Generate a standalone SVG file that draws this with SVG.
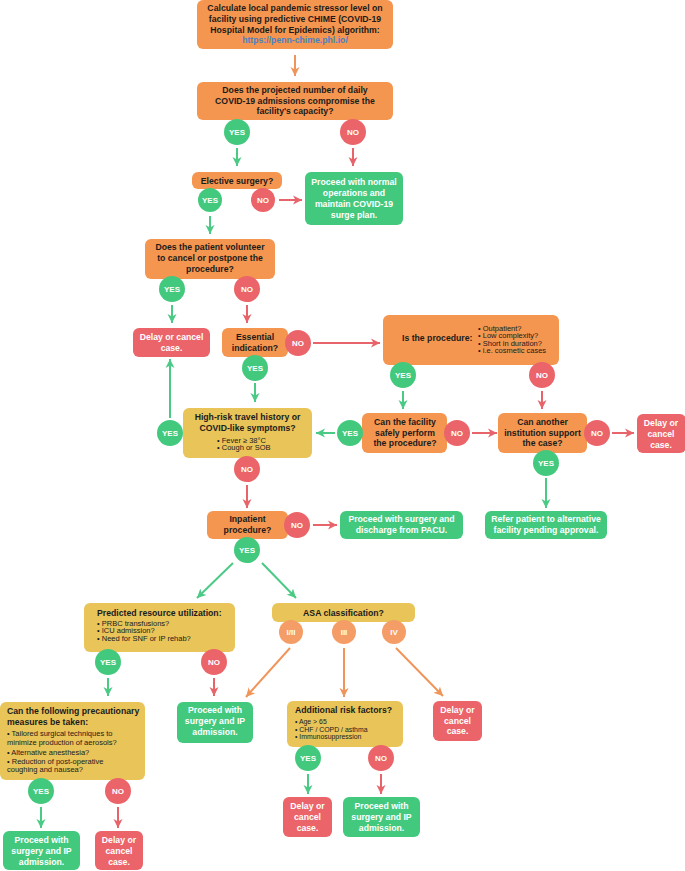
<svg xmlns="http://www.w3.org/2000/svg" width="685" height="871" viewBox="0 0 685 871">
<style>
text{font-family:"Liberation Sans",Arial,Helvetica,sans-serif;}
.t{font-size:8.7px;font-weight:bold;fill:#1b1b1b;text-anchor:middle;}
.tl{font-size:8.7px;font-weight:bold;fill:#1b1b1b;}
.w{font-size:8.7px;font-weight:bold;fill:#ffffff;text-anchor:middle;}
.b{font-size:7.5px;fill:#1b1b1b;}
.bs{font-size:6.9px;fill:#1b1b1b;}
.c{font-size:8px;font-weight:bold;fill:#ffffff;text-anchor:middle;}
.lk{font-size:8.7px;font-weight:bold;fill:#4a80c4;text-anchor:middle;}
.or{fill:#f4964f;}
.gr{fill:#43c97e;}
.rd{fill:#eb6469;}
.ye{fill:#e8c459;}
.lo{fill:#f49d66;}
.ag{stroke:#4bca86;stroke-width:2;fill:none;marker-end:url(#mg);}
.ar{stroke:#e8646b;stroke-width:2;fill:none;marker-end:url(#mr);}
.ao{stroke:#f0955a;stroke-width:2;fill:none;marker-end:url(#mo);}
</style>
<defs>
<marker id="mg" markerUnits="userSpaceOnUse" markerWidth="10" markerHeight="10" refX="9" refY="5" orient="auto"><path d="M0,0.5 L9,5 L0,9.5 L2.5,5 z" fill="#4bca86"/></marker>
<marker id="mr" markerUnits="userSpaceOnUse" markerWidth="10" markerHeight="10" refX="9" refY="5" orient="auto"><path d="M0,0.5 L9,5 L0,9.5 L2.5,5 z" fill="#e8646b"/></marker>
<marker id="mo" markerUnits="userSpaceOnUse" markerWidth="10" markerHeight="10" refX="9" refY="5" orient="auto"><path d="M0,0.5 L9,5 L0,9.5 L2.5,5 z" fill="#f0955a"/></marker>
</defs>
<rect width="685" height="871" fill="#ffffff"/>

<g id="connectors">
<line class="ao" x1="295" y1="55" x2="295" y2="76"/>
<line class="ag" x1="237" y1="148" x2="237" y2="166"/>
<line class="ar" x1="353" y1="148" x2="353" y2="166"/>
<line class="ar" x1="279" y1="200" x2="302" y2="200"/>
<line class="ag" x1="210" y1="216" x2="210" y2="234"/>
<line class="ag" x1="172" y1="305" x2="172" y2="323"/>
<line class="ar" x1="247" y1="305" x2="247" y2="323"/>
<line class="ar" x1="313" y1="343" x2="380" y2="343"/>
<line class="ag" x1="255" y1="383" x2="255" y2="402"/>
<line class="ag" x1="403" y1="391" x2="403" y2="409"/>
<line class="ar" x1="542" y1="391" x2="542" y2="409"/>
<line class="ag" x1="335" y1="433" x2="316" y2="433"/>
<line class="ar" x1="472" y1="433" x2="497" y2="433"/>
<line class="ar" x1="612" y1="433" x2="634" y2="433"/>
<line class="ag" x1="546" y1="478" x2="546" y2="508"/>
<line class="ag" x1="170" y1="418" x2="170" y2="359"/>
<line class="ar" x1="247" y1="485" x2="247" y2="508"/>
<line class="ar" x1="313" y1="525" x2="337" y2="525"/>
<line class="ag" x1="233" y1="563" x2="197" y2="598"/>
<line class="ag" x1="262" y1="563" x2="296" y2="598"/>
<line class="ag" x1="108" y1="678" x2="108" y2="696"/>
<line class="ar" x1="214" y1="678" x2="214" y2="696"/>
<line class="ao" x1="290" y1="648" x2="246" y2="697"/>
<line class="ao" x1="344" y1="648" x2="344" y2="697"/>
<line class="ao" x1="396" y1="648" x2="443" y2="696"/>
<line class="ag" x1="41" y1="807" x2="41" y2="828"/>
<line class="ar" x1="118" y1="807" x2="118" y2="828"/>
<line class="ag" x1="308" y1="774" x2="308" y2="794"/>
<line class="ar" x1="381" y1="774" x2="381" y2="794"/>
</g>

<g id="n-chime">
<rect class="or" x="197" y="0" width="196" height="49" rx="6"/>
<text class="t" x="295" y="11">Calculate local pandemic stressor level on</text>
<text class="t" x="295" y="22">facility using predictive CHIME (COVID-19</text>
<text class="t" x="295" y="32.5">Hospital Model for Epidemics) algorithm:</text>
<text class="lk" x="295" y="43">https://penn-chime.phl.io/</text>
</g>

<g id="n-capacity">
<rect class="or" x="197" y="82" width="196" height="38" rx="6"/>
<text class="t" x="295" y="93">Does the projected number of daily</text>
<text class="t" x="295" y="103.5">COVID-19 admissions compromise the</text>
<text class="t" x="295" y="114">facility's capacity?</text>
<circle class="gr" cx="237" cy="132" r="13"/><text class="c" x="237" y="135">YES</text>
<circle class="rd" cx="353" cy="132" r="13"/><text class="c" x="353" y="135">NO</text>
</g>

<g id="n-elective">
<rect class="or" x="192" y="172" width="90" height="17" rx="6"/>
<text class="t" x="237" y="184">Elective surgery?</text>
<circle class="gr" cx="210" cy="200" r="12"/><text class="c" x="210" y="203">YES</text>
<circle class="rd" cx="263" cy="200" r="12"/><text class="c" x="263" y="203">NO</text>
</g>

<g id="n-normal">
<rect class="gr" x="305" y="172" width="98" height="53" rx="6"/>
<text class="w" x="354" y="185">Proceed with normal</text>
<text class="w" x="354" y="196">operations and</text>
<text class="w" x="354" y="207">maintain COVID-19</text>
<text class="w" x="354" y="218">surge plan.</text>
</g>

<g id="n-volunteer">
<rect class="or" x="145" y="239" width="130" height="40" rx="6"/>
<text class="t" x="210" y="250">Does the patient volunteer</text>
<text class="t" x="210" y="261">to cancel or postpone the</text>
<text class="t" x="210" y="271.5">procedure?</text>
<circle class="gr" cx="172" cy="289" r="13"/><text class="c" x="172" y="292">YES</text>
<circle class="rd" cx="247" cy="289" r="13"/><text class="c" x="247" y="292">NO</text>
</g>

<g id="n-delay1">
<rect class="rd" x="133" y="328" width="77" height="29" rx="6"/>
<text class="w" x="171.5" y="340">Delay or cancel</text>
<text class="w" x="171.5" y="350.5">case.</text>
</g>

<g id="n-essential">
<rect class="or" x="222" y="328" width="66" height="29" rx="6"/>
<text class="t" x="255" y="340">Essential</text>
<text class="t" x="255" y="350.5">indication?</text>
<circle class="rd" cx="298" cy="343" r="13"/><text class="c" x="298" y="346">NO</text>
<circle class="gr" cx="255" cy="368" r="13"/><text class="c" x="255" y="371">YES</text>
</g>

<g id="n-procedure">
<rect class="or" x="383" y="315" width="176" height="50" rx="6"/>
<text class="tl" x="402" y="341">Is the procedure:</text>
<text class="b" x="478" y="330.5">• Outpatient?</text>
<text class="b" x="478" y="338">• Low complexity?</text>
<text class="b" x="478" y="345.5">• Short in duration?</text>
<text class="b" x="478" y="353">• i.e. cosmetic cases</text>
<circle class="gr" cx="403" cy="375" r="13"/><text class="c" x="403" y="378">YES</text>
<circle class="rd" cx="542" cy="375" r="13"/><text class="c" x="542" y="378">NO</text>
</g>

<g id="n-facility">
<rect class="or" x="362" y="413" width="85" height="40" rx="6"/>
<text class="t" x="405" y="425">Can the facility</text>
<text class="t" x="405" y="435.5">safely perform</text>
<text class="t" x="405" y="446">the procedure?</text>
<circle class="gr" cx="350" cy="433" r="13"/><text class="c" x="350" y="436">YES</text>
<circle class="rd" cx="457" cy="433" r="13"/><text class="c" x="457" y="436">NO</text>
</g>

<g id="n-another">
<rect class="or" x="498" y="413" width="89" height="40" rx="6"/>
<text class="t" x="542.5" y="425">Can another</text>
<text class="t" x="542.5" y="435.5">institution support</text>
<text class="t" x="542.5" y="446">the case?</text>
<circle class="rd" cx="597" cy="433" r="13"/><text class="c" x="597" y="436">NO</text>
<circle class="gr" cx="546" cy="463" r="13"/><text class="c" x="546" y="466">YES</text>
</g>

<g id="n-delay2">
<rect class="rd" x="637" y="414" width="49" height="39" rx="6"/>
<text class="w" x="661" y="426">Delay or</text>
<text class="w" x="661" y="437">cancel</text>
<text class="w" x="661" y="447.5">case.</text>
</g>

<g id="n-highrisk">
<rect class="ye" x="183" y="408" width="129" height="50" rx="6"/>
<text class="t" x="247.5" y="420">High-risk travel history or</text>
<text class="t" x="247.5" y="430.5">COVID-like symptoms?</text>
<text class="b" x="217" y="442.5">• Fever ≥ 38°C</text>
<text class="b" x="217" y="450">• Cough or SOB</text>
<circle class="gr" cx="170" cy="433" r="13"/><text class="c" x="170" y="436">YES</text>
<circle class="rd" cx="247" cy="469" r="13"/><text class="c" x="247" y="472">NO</text>
</g>

<g id="n-inpatient">
<rect class="or" x="207" y="511" width="81" height="28" rx="6"/>
<text class="t" x="247.5" y="522">Inpatient</text>
<text class="t" x="247.5" y="533">procedure?</text>
<circle class="rd" cx="297" cy="525" r="13"/><text class="c" x="297" y="528">NO</text>
<circle class="gr" cx="247" cy="550" r="13"/><text class="c" x="247" y="553">YES</text>
</g>

<g id="n-discharge">
<rect class="gr" x="340" y="511" width="123" height="28" rx="6"/>
<text class="w" x="401.5" y="521.5">Proceed with surgery and</text>
<text class="w" x="401.5" y="532.5">discharge from PACU.</text>
</g>

<g id="n-refer">
<rect class="gr" x="485" y="511" width="122" height="28" rx="6"/>
<text class="w" x="546" y="521.5">Refer patient to alternative</text>
<text class="w" x="546" y="532.5">facility pending approval.</text>
</g>

<g id="n-resource">
<rect class="ye" x="84" y="603" width="151" height="49" rx="6"/>
<text class="tl" x="97" y="616">Predicted resource utilization:</text>
<text class="b" x="97" y="625.5">• PRBC transfusions?</text>
<text class="b" x="97" y="633">• ICU admission?</text>
<text class="b" x="97" y="640.5">• Need for SNF or IP rehab?</text>
<circle class="gr" cx="108" cy="662" r="13"/><text class="c" x="108" y="665">YES</text>
<circle class="rd" cx="214" cy="662" r="13"/><text class="c" x="214" y="665">NO</text>
</g>

<g id="n-asa">
<rect class="ye" x="272" y="603" width="143" height="19" rx="6"/>
<text class="t" x="343.5" y="615.5">ASA classification?</text>
<circle class="lo" cx="291" cy="632" r="12"/><text class="c" x="291" y="635">I/II</text>
<circle class="lo" cx="344" cy="632" r="12"/><text class="c" x="344" y="635">III</text>
<circle class="lo" cx="394" cy="632" r="12"/><text class="c" x="394" y="635">IV</text>
</g>

<g id="n-proceed-ip1">
<rect class="gr" x="177" y="702" width="76" height="41" rx="6"/>
<text class="w" x="215" y="713">Proceed with</text>
<text class="w" x="215" y="724">surgery and IP</text>
<text class="w" x="215" y="735">admission.</text>
</g>

<g id="n-precaution">
<rect class="ye" x="0" y="702" width="145" height="78" rx="6"/>
<text class="tl" x="7" y="714">Can the following precautionary</text>
<text class="tl" x="7" y="725">measures be taken:</text>
<text class="b" x="7" y="735.5">• Tailored surgical techniques to</text>
<text class="b" x="7" y="744.5">minimize production of aerosols?</text>
<text class="b" x="7" y="754.5">• Alternative anesthesia?</text>
<text class="b" x="7" y="763.5">• Reduction of post-operative</text>
<text class="b" x="7" y="772">coughing and nausea?</text>
<circle class="gr" cx="41" cy="791" r="13"/><text class="c" x="41" y="794">YES</text>
<circle class="rd" cx="118" cy="791" r="13"/><text class="c" x="118" y="794">NO</text>
</g>

<g id="n-proceed-ip2">
<rect class="gr" x="3" y="831" width="77" height="39" rx="6"/>
<text class="w" x="41.5" y="843">Proceed with</text>
<text class="w" x="41.5" y="854">surgery and IP</text>
<text class="w" x="41.5" y="865">admission.</text>
</g>

<g id="n-delay3">
<rect class="rd" x="95" y="831" width="48" height="39" rx="6"/>
<text class="w" x="119" y="843">Delay or</text>
<text class="w" x="119" y="854">cancel</text>
<text class="w" x="119" y="865">case.</text>
</g>

<g id="n-riskfactors">
<rect class="ye" x="287" y="701" width="116" height="46" rx="6"/>
<text class="tl" x="295" y="713">Additional risk factors?</text>
<text class="bs" x="295" y="724">• Age &gt; 65</text>
<text class="bs" x="295" y="731.5">• CHF / COPD / asthma</text>
<text class="bs" x="295" y="739">• Immunosuppression</text>
<circle class="gr" cx="308" cy="758" r="13"/><text class="c" x="308" y="761">YES</text>
<circle class="rd" cx="381" cy="758" r="13"/><text class="c" x="381" y="761">NO</text>
</g>

<g id="n-delay4">
<rect class="rd" x="283" y="797" width="49" height="40" rx="6"/>
<text class="w" x="307.5" y="809">Delay or</text>
<text class="w" x="307.5" y="820">cancel</text>
<text class="w" x="307.5" y="830.5">case.</text>
</g>

<g id="n-proceed-ip3">
<rect class="gr" x="343" y="797" width="77" height="40" rx="6"/>
<text class="w" x="381.5" y="809">Proceed with</text>
<text class="w" x="381.5" y="820">surgery and IP</text>
<text class="w" x="381.5" y="830.5">admission.</text>
</g>

<g id="n-delay5">
<rect class="rd" x="433" y="701" width="49" height="40" rx="6"/>
<text class="w" x="457.5" y="712.5">Delay or</text>
<text class="w" x="457.5" y="723.5">cancel</text>
<text class="w" x="457.5" y="734">case.</text>
</g>
</svg>
